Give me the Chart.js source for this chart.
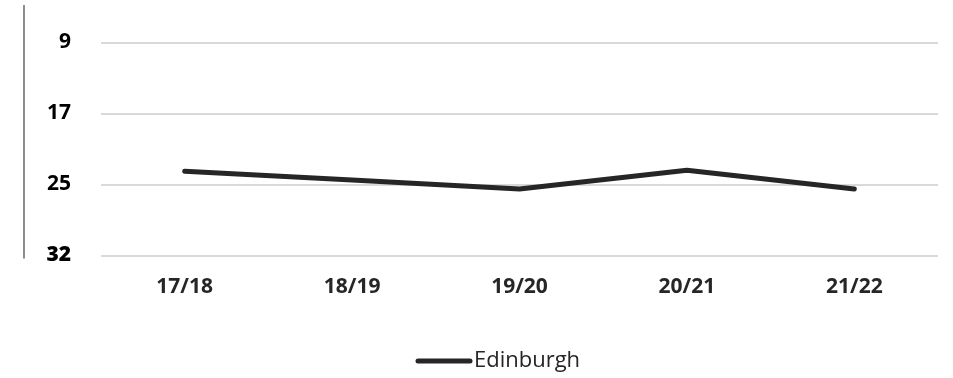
<!DOCTYPE html>
<html>
<head>
<meta charset="utf-8">
<script src="https://cdn.jsdelivr.net/npm/chart.js@4/dist/chart.umd.min.js"></script>
<style>
  html, body { margin: 0; padding: 0; background: #ffffff; }
  #wrap { width: 953px; height: 378px; position: relative; }
</style>
</head>
<body>
<div id="wrap"><canvas id="c"></canvas></div>
<script>
// Seasons along the x axis
const seasons = ['17/18', '18/19', '19/20', '20/21', '21/22'];
// Edinburgh ranking per season (lower is better, axis runs top-down)
const edinburghRank = [23.5, 24.5, 25.5, 23.4, 25.5];
// Gridline positions and the text shown beside them
const rankTickValues = [9, 17, 25, 33];
const rankTickLabels = ['9', '17', '25', '32'];

const LINE_COLOR = '#262626';
const FONT = "'Open Sans', 'DejaVu Sans', sans-serif";

// Thin rule to the left of the value labels
const sideRule = {
  id: 'sideRule',
  afterDraw(chart) {
    const { ctx, chartArea } = chart;
    ctx.save();
    ctx.strokeStyle = '#404040';
    ctx.lineWidth = 1.2;
    ctx.beginPath();
    ctx.moveTo(24, chartArea.top - 2);
    ctx.lineTo(24, chartArea.bottom + 3);
    ctx.stroke();
    ctx.restore();
  }
};

// Legend entry: a short thick stroke followed by the series name
const lineLegend = {
  id: 'lineLegend',
  afterDraw(chart) {
    const { ctx } = chart;
    const ds = chart.data.datasets[0];
    const y = 361;
    const x0 = 418, x1 = 470;
    ctx.save();
    ctx.strokeStyle = ds.borderColor;
    ctx.lineWidth = ds.borderWidth;
    ctx.lineCap = 'round';
    ctx.beginPath();
    ctx.moveTo(x0, y);
    ctx.lineTo(x1, y);
    ctx.stroke();
    ctx.fillStyle = '#262626';
    ctx.font = '22px ' + FONT;
    ctx.textBaseline = 'middle';
    ctx.textAlign = 'left';
    ctx.fillText(ds.label, 474, y);
    ctx.restore();
  }
};

new Chart(document.getElementById('c'), {
  type: 'line',
  data: {
    labels: seasons,
    datasets: [{
      label: 'Edinburgh',
      data: edinburghRank,
      borderColor: LINE_COLOR,
      backgroundColor: LINE_COLOR,
      borderWidth: 5,
      borderCapStyle: 'round',
      borderJoinStyle: 'round',
      pointRadius: 0,
      pointHoverRadius: 0,
      tension: 0,
      fill: false
    }]
  },
  options: {
    responsive: true,
    maintainAspectRatio: false,
    animation: false,
    events: [],
    layout: { padding: { left: 0, right: 15, top: 7, bottom: 78.5 } },
    plugins: {
      legend: { display: false },
      tooltip: { enabled: false }
    },
    scales: {
      x: {
        offset: true,
        grid: { display: false, drawTicks: false },
        border: { display: false },
        ticks: {
          color: '#262626',
          padding: 19,
          font: { family: FONT, size: 21, weight: 'bold' }
        },
        afterFit(scale) { scale.height = 44; }
      },
      y: {
        reverse: true,
        min: 5,
        max: 33,
        afterBuildTicks(scale) {
          scale.ticks = rankTickValues.map(v => ({ value: v }));
        },
        afterFit(scale) {
          scale.width = 101;
          scale.paddingTop = 0;
          scale.paddingBottom = 0;
        },
        grid: { color: '#d9d9d9', lineWidth: 2, drawTicks: false },
        border: { display: false },
        ticks: {
          color: '#000000',
          padding: 30,
          font: (ctx) => ({
            family: FONT,
            size: 21,
            weight: ctx.index === rankTickValues.length - 1 ? '800' : 'bold'
          }),
          callback: (value, index) => rankTickLabels[index]
        }
      }
    }
  },
  plugins: [sideRule, lineLegend]
});
</script>
</body>
</html>
